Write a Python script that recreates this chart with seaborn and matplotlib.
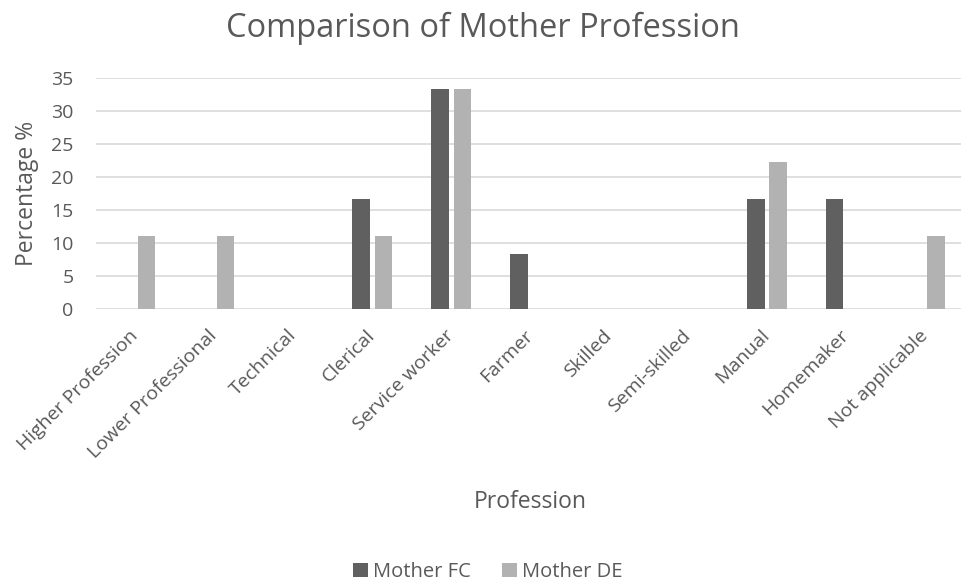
import pandas as pd
import matplotlib.pyplot as plt
import seaborn as sns
from matplotlib.patches import Patch

professions = ["Higher Profession", "Lower Professional", "Technical", "Clerical",
               "Service worker", "Farmer", "Skilled", "Semi-skilled", "Manual",
               "Homemaker", "Not applicable"]
mother_fc = [0, 0, 0, 16.67, 33.33, 8.33, 0, 0, 16.67, 16.67, 0]
mother_de = [11.11, 11.11, 0, 11.11, 33.33, 0, 0, 0, 22.22, 0, 11.11]
series = ["Mother FC", "Mother DE"]
colors = ["#606060", "#B2B2B2"]

df = pd.DataFrame({
    "Profession": professions * 2,
    "Percentage": mother_fc + mother_de,
    "Group": [series[0]] * len(professions) + [series[1]] * len(professions),
})

sns.set_theme(style="white")
plt.rcParams["font.family"] = ["Open Sans", "DejaVu Sans"]
txt = "#595959"

fig = plt.figure(figsize=(9.62, 5.85), dpi=100)
ax = fig.add_axes([0.0995, 0.4718, 0.903, 0.3949])

sns.barplot(data=df, x="Profession", y="Percentage", hue="Group",
            palette=colors, width=0.565, gap=0.22, ax=ax, legend=False,
            saturation=1, linewidth=0)

ax.set_ylim(0, 35)
ax.set_xlim(-0.5, 10.5)
ax.set_yticks(range(0, 36, 5))
ax.yaxis.grid(True, color="#D9D9D9", linewidth=1.2)
ax.set_axisbelow(True)
for s in ax.spines.values():
    s.set_visible(False)
ax.tick_params(axis="both", length=0, colors=txt, labelsize=14)
ax.tick_params(axis="x", pad=17)
ax.tick_params(axis="y", pad=16)
plt.setp(ax.get_xticklabels(), rotation=45, ha="right", va="center",
         rotation_mode="anchor")

ax.set_xlabel("")
ax.set_ylabel("Percentage %", fontsize=16.5, color=txt)
ax.yaxis.set_label_coords(-0.065, 0.5)
fig.text(0.551, 0.142, "Profession", fontsize=16.5, color=txt, ha="center", va="center")
fig.text(0.502, 0.952, "Comparison of Mother Profession", fontsize=23.5, color=txt,
         ha="center", va="center")

handles = [Patch(facecolor=c, edgecolor="none") for c in colors]
fig.legend(handles, series, loc="center", bbox_to_anchor=(0.507, 0.022), ncol=2,
           frameon=False, fontsize=14.5, labelcolor=txt, handlelength=0.75,
           handleheight=0.75, handletextpad=0.25, columnspacing=1.5)

fig.savefig("out.png", dpi=100)
